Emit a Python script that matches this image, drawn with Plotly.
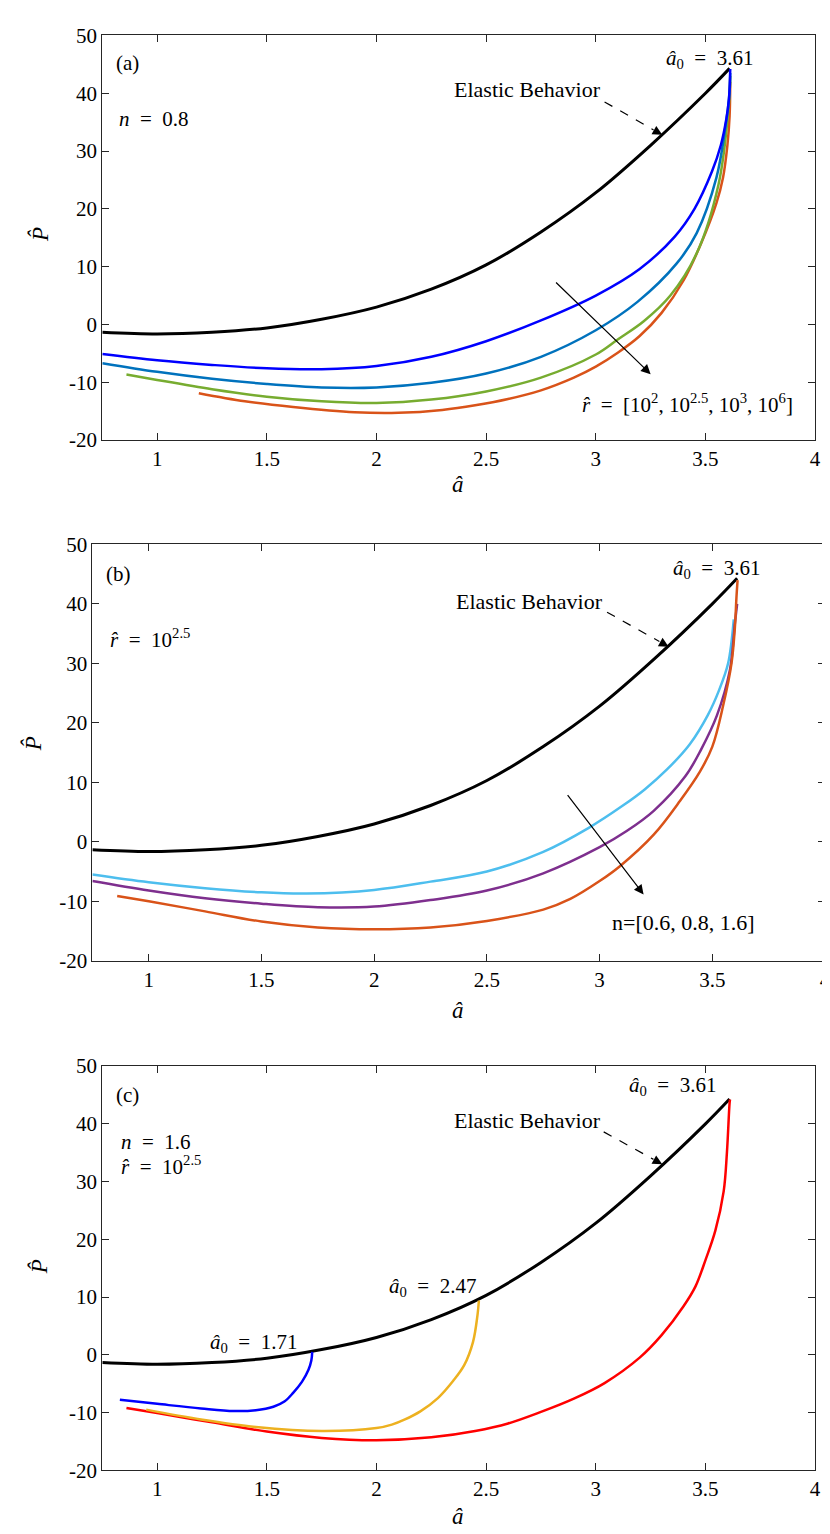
import plotly.graph_objects as go

# ---------------- data ----------------
elastic_x = [0.75, 1.0, 1.25, 1.5, 1.75, 2.0, 2.25, 2.5, 2.75, 3.0, 3.25, 3.5, 3.61]
elastic_y = [-1.35, -1.65, -1.35, -0.6, 0.9, 3.0, 6.1, 10.3, 16.0, 22.8, 31.0, 40.0, 44.3]

# panel (a): n = 0.8, r = [1e2, 1e2.5, 1e3, 1e6]
a_r2_x = [0.75, 1.0, 1.25, 1.5, 1.75, 2.0, 2.25, 2.5, 2.75, 3.0, 3.2, 3.36, 3.45, 3.53, 3.57, 3.595, 3.607, 3.613]
a_r2_y = [-5.1, -6.2, -7.0, -7.6, -7.75, -7.2, -5.6, -2.9, 0.7, 5.0, 9.6, 15.2, 20.0, 26.5, 31.0, 35.5, 39.0, 44.2]
a_r25_x = [0.75, 1.0, 1.25, 1.5, 1.75, 2.0, 2.25, 2.5, 2.75, 3.0, 3.19, 3.37, 3.46, 3.55, 3.59, 3.61, 3.613]
a_r25_y = [-6.7, -8.2, -9.4, -10.3, -10.9, -10.9, -10.1, -8.5, -5.6, -1.0, 3.9, 10.6, 15.8, 25.4, 33.9, 40.2, 43.5]
a_r3_x = [0.86, 1.0, 1.25, 1.5, 1.75, 2.0, 2.25, 2.5, 2.75, 3.0, 3.1, 3.22, 3.34, 3.46, 3.56, 3.605, 3.613]
a_r3_y = [-8.65, -9.6, -11.2, -12.5, -13.3, -13.6, -13.0, -11.6, -9.2, -5.2, -2.6, 0.6, 5.0, 12.3, 24.3, 37.3, 43.0]
a_r6_x = [1.19, 1.4, 1.62, 1.9, 2.1, 2.3, 2.45, 2.6, 2.75, 2.9, 3.0, 3.1, 3.2, 3.3, 3.4, 3.48, 3.55, 3.58, 3.6, 3.61, 3.613]
a_r6_y = [-11.9, -13.3, -14.3, -15.2, -15.3, -14.8, -14.0, -12.9, -11.4, -9.2, -7.3, -4.9, -2.0, 2.0, 7.6, 14.0, 21.0, 25.4, 31.0, 36.0, 42.0]

# panel (b): r = 1e2.5, n = [0.6, 0.8, 1.6]
b_n06_x = [0.75, 1.0, 1.25, 1.5, 1.7, 2.0, 2.25, 2.5, 2.75, 2.95, 3.1, 3.2, 3.3, 3.4, 3.48, 3.53, 3.57, 3.595]
b_n06_y = [-5.5, -6.8, -7.8, -8.5, -8.7, -8.1, -6.7, -5.0, -1.7, 2.3, 6.0, 8.8, 12.2, 16.4, 21.3, 25.5, 30.0, 37.4]
b_n08_x = [0.75, 1.0, 1.25, 1.5, 1.75, 2.0, 2.25, 2.5, 2.75, 3.0, 3.12, 3.24, 3.38, 3.45, 3.52, 3.578, 3.60, 3.61]
b_n08_y = [-6.6, -8.2, -9.5, -10.4, -11.0, -10.9, -9.8, -8.2, -5.3, -0.9, 1.8, 5.2, 11.0, 15.5, 21.2, 28.9, 36.7, 40.0]
b_n16_x = [0.86, 1.0, 1.25, 1.5, 1.75, 2.0, 2.25, 2.5, 2.75, 2.87, 3.0, 3.09, 3.24, 3.357, 3.445, 3.5, 3.548, 3.585, 3.6, 3.607, 3.612]
b_n16_y = [-9.1, -10.0, -11.7, -13.4, -14.4, -14.7, -14.4, -13.3, -11.4, -9.6, -6.6, -4.1, 1.2, 6.9, 11.8, 16.0, 22.9, 30.0, 36.0, 41.1, 44.0]

# panel (c): n = 1.6, r = 1e2.5, a0 = [1.71, 2.47, 3.61]
c_171_x = [0.83, 1.0, 1.2, 1.35, 1.45, 1.53, 1.58, 1.62, 1.66, 1.69, 1.703, 1.707]
c_171_y = [-7.8, -8.5, -9.3, -9.75, -9.6, -9.0, -8.1, -6.6, -4.7, -2.6, -1.0, 0.5]
c_247_x = [0.95, 1.2, 1.45, 1.75, 2.0, 2.07, 2.13, 2.2, 2.28, 2.35, 2.40, 2.44, 2.46, 2.467]
c_247_y = [-9.5, -11.2, -12.5, -13.2, -12.7, -12.1, -11.2, -9.8, -7.5, -4.5, -1.8, 2.2, 6.7, 9.4]
c_361_x = [0.86, 1.0, 1.25, 1.5, 1.75, 2.0, 2.25, 2.45, 2.6, 2.75, 2.9, 3.04, 3.2, 3.3, 3.4, 3.454, 3.5, 3.545, 3.583, 3.598, 3.61, 3.612]
c_361_y = [-9.2, -10.1, -11.7, -13.3, -14.4, -14.8, -14.3, -13.2, -11.9, -9.9, -7.6, -4.9, -0.5, 3.4, 8.4, 11.8, 16.4, 21.5, 28.3, 35.1, 43.6, 44.2]

x_tickvals = [1, 1.5, 2, 2.5, 3, 3.5, 4]
x_ticktext = ["1", "1.5", "2", "2.5", "3", "3.5", "4"]
y_tickvals = [-20, -10, 0, 10, 20, 30, 40, 50]
y_ticktext = ["-20", "-10", "0", "10", "20", "30", "40", "50"]

# ---------------- figure ----------------
W, H = 830, 1534
FONT = "Liberation Serif"
SP = "\u2002"

def px2paper_x(px):
    return px / W

def px2paper_y(py):
    return 1 - py / H

panels = [
    (95, 813, 15.7, 426.7),
    (85, 823, 532.7, 955.7),
    (95, 813, 1062.7, 1473.3),
]

fig = go.Figure()

def add_line(x, y, color, width, ax_i):
    sfx = "" if ax_i == 1 else str(ax_i)
    fig.add_trace(go.Scatter(x=x, y=y, mode="lines",
                             line=dict(color=color, width=width, shape="spline", smoothing=1.0),
                             xaxis="x" + sfx, yaxis="y" + sfx, showlegend=False,
                             hoverinfo="skip"))

# panel a
add_line(elastic_x, elastic_y, "#000000", 3, 1)
add_line(a_r6_x, a_r6_y, "#D95319", 2.5, 1)
add_line(a_r3_x, a_r3_y, "#77AC30", 2.5, 1)
add_line(a_r25_x, a_r25_y, "#0072BD", 2.5, 1)
add_line(a_r2_x, a_r2_y, "#0000FF", 2.5, 1)
# panel b
add_line(elastic_x, elastic_y, "#000000", 3, 2)
add_line(b_n06_x, b_n06_y, "#4DBEEE", 2.5, 2)
add_line(b_n08_x, b_n08_y, "#7E2F8E", 2.5, 2)
add_line(b_n16_x, b_n16_y, "#D95319", 2.5, 2)
# panel c
add_line(elastic_x, elastic_y, "#000000", 3, 3)
add_line(c_361_x, c_361_y, "#FF0000", 2.5, 3)
add_line(c_247_x, c_247_y, "#EDB120", 2.5, 3)
add_line(c_171_x, c_171_y, "#0000FF", 2.5, 3)

axis_common = dict(showline=True, linecolor="#262626", linewidth=1, mirror="ticks",
                   ticks="inside", ticklen=7, tickcolor="#262626", tickwidth=1,
                   showgrid=False, zeroline=False,
                   tickfont=dict(family=FONT, size=21, color="black"))

layout = dict(width=W, height=H, margin=dict(l=0, r=0, t=0, b=0),
              paper_bgcolor="white", plot_bgcolor="white", showlegend=False)

for i, (xl, xr, yt, yb) in enumerate(panels, start=1):
    sfx = "" if i == 1 else str(i)
    layout["xaxis" + sfx] = dict(axis_common, domain=[px2paper_x(xl), px2paper_x(xr)],
                                 range=[0.75, 4], tickvals=x_tickvals, ticktext=x_ticktext,
                                 anchor="y" + sfx)
    layout["yaxis" + sfx] = dict(axis_common, domain=[px2paper_y(yb), px2paper_y(yt)],
                                 range=[-20, 50], tickvals=y_tickvals, ticktext=y_ticktext,
                                 anchor="x" + sfx)

fig.update_layout(**layout)

ann = []
def txt(text, x, y, ax_i, size=21, xanchor="center"):
    sfx = "" if ax_i == 1 else str(ax_i)
    ann.append(dict(text=text, x=x, y=y, xref="x" + sfx, yref="y" + sfx, showarrow=False,
                    xanchor=xanchor, yanchor="middle",
                    font=dict(family=FONT, size=size, color="black")))

def arrow(x0, y0, x1, y1, ax_i):
    sfx = "" if ax_i == 1 else str(ax_i)
    ann.append(dict(text="", x=x1, y=y1, ax=x0, ay=y0, xref="x" + sfx, yref="y" + sfx,
                    axref="x" + sfx, ayref="y" + sfx, showarrow=True, arrowhead=2,
                    arrowsize=1.6, arrowwidth=1.2, arrowcolor="black"))

def dashed_arrow(x0, y0, x1, y1, ax_i):
    sfx = "" if ax_i == 1 else str(ax_i)
    f = 0.85
    xm, ym = x0 + f * (x1 - x0), y0 + f * (y1 - y0)
    fig.add_shape(type="line", x0=x0, y0=y0, x1=xm, y1=ym, xref="x" + sfx, yref="y" + sfx,
                  line=dict(color="black", width=1.2, dash="dash"))
    ann.append(dict(text="", x=x1, y=y1, ax=xm, ay=ym, xref="x" + sfx, yref="y" + sfx,
                    axref="x" + sfx, ayref="y" + sfx, showarrow=True, arrowhead=2,
                    arrowsize=1.6, arrowwidth=1.2, arrowcolor="black"))

A0 = "<i>â</i><sub>0</sub>" + SP + "=" + SP
RH = "<i>r̂</i>"
EQ = SP + "=" + SP

# panel a texts
txt("(a)", 0.805, 45.2, 1, xanchor="left")
txt("<i>n</i>" + EQ + "0.8", 0.815, 35.5, 1, xanchor="left")
txt(A0 + "3.61", 3.52, 46.0, 1)
txt("Elastic Behavior", 2.69, 40.6, 1, size=22)
dashed_arrow(3.04, 38.5, 3.303, 32.8, 1)
arrow(2.812, 7.5, 3.25, -8.6, 1)
txt(RH + EQ + "[10<sup>2</sup>, 10<sup>2.5</sup>, 10<sup>3</sup>, 10<sup>6</sup>]", 3.91, -13.6, 1, xanchor="right")

# panel b texts
txt("(b)", 0.80, 45.1, 2, xanchor="left")
txt(RH + EQ + "10<sup>2.5</sup>", 0.82, 34.2, 2, xanchor="left")
txt(A0 + "3.61", 3.52, 45.8, 2)
txt("Elastic Behavior", 2.69, 40.4, 2, size=22)
dashed_arrow(3.033, 38.6, 3.306, 32.8, 2)
arrow(2.853, 8.1, 3.195, -8.85, 2)
txt("n=[0.6, 0.8, 1.6]", 3.374, -13.6, 2, size=22)

# panel c texts
txt("(c)", 0.805, 45.0, 3, xanchor="left")
txt("<i>n</i>" + EQ + "1.6", 0.825, 36.8, 3, xanchor="left")
txt(RH + EQ + "10<sup>2.5</sup>", 0.825, 32.8, 3, xanchor="left")
txt(A0 + "3.61", 3.35, 46.5, 3)
txt(A0 + "2.47", 2.257, 11.8, 3)
txt(A0 + "1.71", 1.44, 2.0, 3)
txt("Elastic Behavior", 2.688, 40.6, 3, size=22)
dashed_arrow(3.036, 38.6, 3.303, 33.0, 3)

# axis titles (paper coords)
for (xp, yp) in [(453, 471.7), (453, 1006.7), (453, 1520)]:
    ann.append(dict(text="<i>â</i>", x=px2paper_x(xp), y=px2paper_y(yp), xref="paper", yref="paper",
                    xanchor="center", yanchor="middle",
                    showarrow=False, font=dict(family=FONT, size=23, color="black")))
for (xp, yp) in [(31.7, 218), (25, 735), (31.7, 1266.7)]:
    ann.append(dict(text="<i>P̂</i>", x=px2paper_x(xp), y=px2paper_y(yp), xref="paper", yref="paper",
                    xanchor="center", yanchor="middle",
                    showarrow=False, textangle=-90, font=dict(family=FONT, size=23, color="black")))

fig.update_layout(annotations=ann)
fig.write_html("out.html")
